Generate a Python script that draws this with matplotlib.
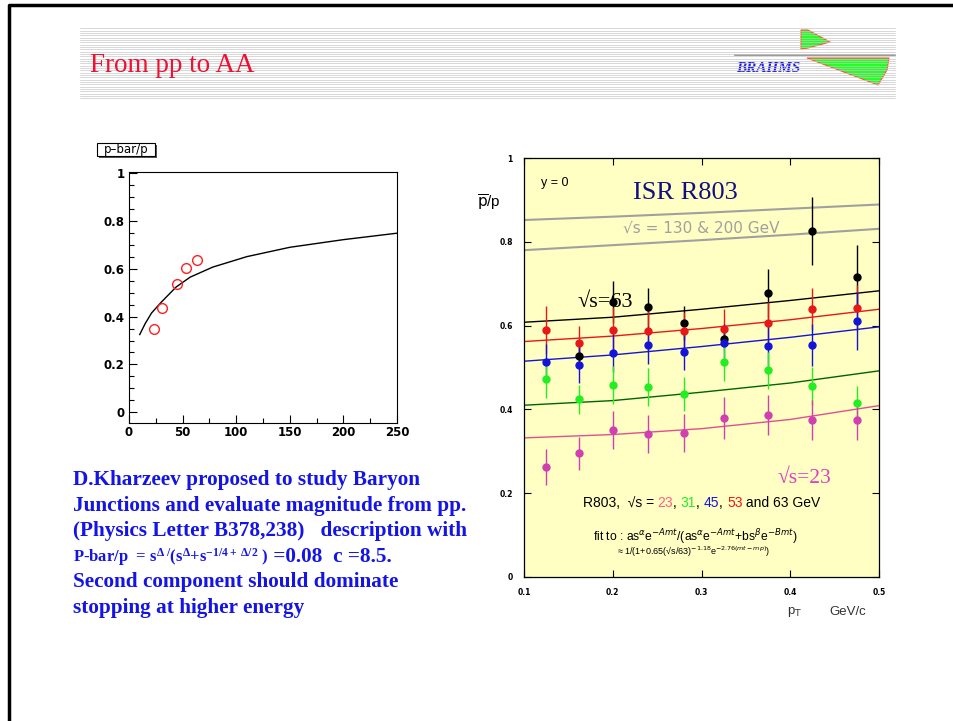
import numpy as np
import matplotlib.pyplot as plt
from matplotlib.patches import Polygon, Rectangle

# fonts for the bold serif formula in the text block
plt.rcParams['mathtext.fontset'] = 'custom'
plt.rcParams['mathtext.rm'] = 'Liberation Serif:bold'
plt.rcParams['mathtext.it'] = 'Liberation Serif:bold:italic'
plt.rcParams['mathtext.bf'] = 'Liberation Serif:bold'

#pp data vs sqrt(s) and the baryon junction curve
sqrt_s = [23, 31, 45, 53, 63]
pbar_p = [0.35, 0.435, 0.535, 0.605, 0.635]
curve_x = [10, 15, 21, 30, 44, 57, 78, 110, 150, 200, 250]
curve_y = [0.325, 0.37, 0.415, 0.46, 0.524, 0.565, 0.607, 0.651, 0.69, 0.722, 0.749]

#ISR R803 pbar/p vs pT at y=0
pt = [0.125, 0.162, 0.2, 0.24, 0.28, 0.325, 0.375, 0.425, 0.475]
r63 = [np.nan, 0.528, 0.657, 0.644, 0.606, 0.569, 0.677, 0.825, 0.717]
e63 = [0.0, 0.02, 0.05, 0.045, 0.04, 0.02, 0.058, 0.081, 0.075]
r53 = [0.590, 0.558, 0.590, 0.588, 0.588, 0.593, 0.606, 0.640, 0.642]
e53 = [0.057, 0.04, 0.055, 0.05, 0.045, 0.046, 0.05, 0.05, 0.055]
r45 = [0.512, 0.507, 0.535, 0.553, 0.538, 0.558, 0.551, 0.554, 0.611]
e45 = [0.045, 0.045, 0.045, 0.045, 0.045, 0.045, 0.05, 0.05, 0.07]
r31 = [0.473, 0.424, 0.458, 0.454, 0.437, 0.512, 0.493, 0.456, 0.416]
e31 = [0.045, 0.035, 0.045, 0.045, 0.04, 0.045, 0.045, 0.045, 0.04]
r23 = [0.262, 0.295, 0.350, 0.341, 0.344, 0.379, 0.386, 0.375, 0.375]
e23 = [0.043, 0.04, 0.045, 0.045, 0.045, 0.05, 0.048, 0.048, 0.048]

#fits
fit_pt = [0.1, 0.2, 0.3, 0.4, 0.5]
fit63 = [0.608, 0.620, 0.639, 0.660, 0.683]
fit53 = [0.562, 0.575, 0.593, 0.614, 0.639]
fit45 = [0.515, 0.530, 0.550, 0.572, 0.597]
fit31 = [0.410, 0.421, 0.441, 0.463, 0.492]
fit23 = [0.332, 0.340, 0.354, 0.376, 0.409]
fit200 = [0.852, 0.860, 0.869, 0.879, 0.889]
fit130 = [0.780, 0.792, 0.804, 0.817, 0.831]

c63, c53, c45, c31, c23 = 'black', '#e81818', '#1414d8', '#22ee22', '#d040b0'

W, H = 954, 721
fig = plt.figure(figsize=(W / 100, H / 100), dpi=100)

#whole slide in pixel coordinates
ov = fig.add_axes([0, 0, 1, 1])
ov.set_xlim(0, W)
ov.set_ylim(H, 0)
ov.axis('off')

ov.plot([9, 9, W], [H, 5, 5], color='black', lw=2.5)

# BRAHMS logo
ov.add_patch(Polygon([(801, 30), (808, 30), (830, 42), (808, 48), (801, 49)],
                     facecolor='#22ff22', edgecolor='#ff5533', lw=0.8, zorder=2))
ov.add_patch(Polygon([(807, 58), (889, 58), (887, 70), (878, 85)],
                     facecolor='#22ff22', edgecolor='#ff5533', lw=0.8, zorder=2))
ov.plot([735, 895], [55, 55], color='#888888', lw=1.2, zorder=2)
ov.text(768, 68, 'BRAHMS', ha='center', va='center', family='Liberation Serif',
        style='italic', weight='bold', size=11, color='#2020dd', zorder=2)

# header stripes
for y in np.arange(28.3, 99, 2.33):
    ov.plot([80, 895], [y, y], color='#c8c8c8', lw=0.5, zorder=3)

ov.text(90, 65, 'From pp to AA', va='center', family='Liberation Serif',
        size=19.5, color='#ee1133', zorder=4)

#text block
blue_txt = '#1414e6'
lines = ['D.Kharzeev proposed to study Baryon',
         'Junctions and evaluate magnitude from pp.',
         '(Physics Letter B378,238)   description with',
         None,
         'Second component should dominate',
         'stopping at higher energy']
for i, s in enumerate(lines):
    if s is None:
        continue
    ov.text(73, 485 + i * 25.6, s, va='baseline', family='Liberation Serif',
            weight='bold', size=15.3, color=blue_txt)

renderer = fig.canvas.get_renderer()


def put_pieces(ax, x, y, pieces, **kw):
    for s, col, size in pieces:
        t = ax.text(x, y, s, color=col, va='baseline', size=size, **kw)
        bb = t.get_window_extent(renderer)
        x = ax.transData.inverted().transform((bb.x1, bb.y0))[0]


put_pieces(ov, 73, 485 + 3 * 25.6,
           [(r'P-bar/p  = s$^{\Delta\ /}$(s$^{\Delta}$+s$^{-1/4+\ \Delta/2}$ )', blue_txt, 12),
            (' =0.08  c =8.5.', blue_txt, 15.3)],
           family='Liberation Serif', weight='bold', math_fontfamily='custom')

#left panel
axl = fig.add_axes([129 / W, 1 - 423 / H, 268 / W, 251 / H])
axl.plot(curve_x, curve_y, color='black', lw=1)
axl.plot(sqrt_s, pbar_p, 'o', mfc='none', mec='#ff2020', ms=7, mew=1)
axl.set_xlim(0, 250)
axl.set_ylim(-0.045, 1.005)
axl.set_xticks([0, 50, 100, 150, 200, 250])
axl.set_xticklabels(['0', '50', '100', '150', '200', '250'], fontweight='bold')
axl.set_yticks([0, 0.2, 0.4, 0.6, 0.8, 1])
axl.set_yticklabels(['0', '0.2', '0.4', '0.6', '0.8', '1'], fontweight='bold')
axl.set_xticks(np.arange(0, 251, 25), minor=True)
axl.set_yticks(np.arange(0, 1.001, 0.05), minor=True)
axl.tick_params(which='both', direction='in', labelsize=8.5, width=0.8)
axl.tick_params(which='major', length=6)
axl.tick_params(which='minor', length=3.5)
axl.tick_params(axis='y', pad=3)
axl.tick_params(axis='x', pad=2)
for sp in axl.spines.values():
    sp.set_linewidth(0.8)

ov.add_patch(Rectangle((99, 145), 58, 13, facecolor='#555555', edgecolor='none'))
ov.add_patch(Rectangle((97, 143), 58, 13, facecolor='white', edgecolor='black', lw=0.8))
ov.text(126, 149.5, 'p\u2013bar/p', ha='center', va='center', size=8.5,
        family='DejaVu Sans')

#right panel
axr = fig.add_axes([524 / W, 1 - 577 / H, 355 / W, 419 / H])
axr.set_facecolor('#ffffc4')
axr.plot(fit_pt, fit200, color='#a0a0a0', lw=1.5)
axr.plot(fit_pt, fit130, color='#a0a0a0', lw=1.5)
axr.plot(fit_pt, fit63, color='black', lw=1)
axr.plot(fit_pt, fit53, color=c53, lw=1)
axr.plot(fit_pt, fit45, color=c45, lw=1)
axr.plot(fit_pt, fit31, color='#006400', lw=1)
axr.plot(fit_pt, fit23, color='#e05090', lw=1)
for r, e, col in [(r63, e63, c63), (r53, e53, c53), (r45, e45, c45),
                  (r31, e31, c31), (r23, e23, c23)]:
    axr.errorbar(pt, r, yerr=e, fmt='o', color=col, ms=5, elinewidth=1, capsize=0)
axr.set_xlim(0.1, 0.5)
axr.set_ylim(0, 1)
axr.set_xticks([0.1, 0.2, 0.3, 0.4, 0.5])
axr.set_xticklabels(['0.1', '0.2', '0.3', '0.4', '0.5'], fontweight='bold')
axr.set_yticks([0, 0.2, 0.4, 0.6, 0.8, 1])
axr.set_yticklabels(['0', '0.2', '0.4', '0.6', '0.8', '1'], fontweight='bold')
axr.tick_params(direction='in', top=True, right=True, length=5, width=0.8,
                labelsize=5.5, colors='black')
axr.tick_params(axis='y', pad=8)
axr.tick_params(axis='x', pad=8)
for sp in axr.spines.values():
    sp.set_linewidth(0.9)

sans = ['Liberation Sans', 'DejaVu Sans']
axr.text(0.119, 0.94, 'y = 0', size=9, family=sans, va='center')
axr.text(0.2228, 0.917, 'ISR R803', size=19, family='Liberation Serif',
         color='#101080', va='center')
axr.text(0.2116, 0.833, '\u221as = 130 & 200 GeV', size=11, family='DejaVu Sans',
         color='#a0a0a0', va='center')
axr.text(0.16, 0.655, '\u221as=63', size=16, family=['Liberation Serif', 'DejaVu Serif'],
         va='center')
axr.text(0.386, 0.235, '\u221as=23', size=15.5, family=['Liberation Serif', 'DejaVu Serif'],
         color='#e040c0', va='center')
put_pieces(axr, 0.166, 0.168,
           [('R803,  \u221as = ', 'black', 10), ('23', '#ff6080', 10), (', ', 'black', 10),
            ('31', c31, 10), (', ', 'black', 10), ('45', c45, 10), (', ', 'black', 10),
            ('53', c53, 10), (' and 63 GeV', 'black', 10)],
           family=sans)
axr.text(0.178, 0.086,
         r'fit to : as$^{\alpha}$e$^{-Amt}$/(as$^{\alpha}$e$^{-Amt}$+bs$^{\beta}$e$^{-Bmt}$)',
         size=8.7, family=sans, math_fontfamily='dejavusans')
axr.text(0.205, 0.052,
         '\u2248 1/(1+0.65(\u221as/63)$^{-1.18}$e$^{-2.76(mt-mp)}$)',
         size=6.5, family=sans, math_fontfamily='dejavusans')

# axis titles
ov.text(489, 203, r'$\overline{\mathrm{p}}$/p', ha='center', va='center', size=11,
        family=sans, math_fontfamily='dejavusans')
ov.text(795, 612, r'p$_\mathrm{T}$', ha='center', va='center', size=9.5,
        family=sans, math_fontfamily='dejavusans', color='#333333')
ov.text(848, 612, 'GeV/c', ha='center', va='center', size=9.5,
        family=sans, color='#333333')

fig.savefig('out.png', dpi=100)
